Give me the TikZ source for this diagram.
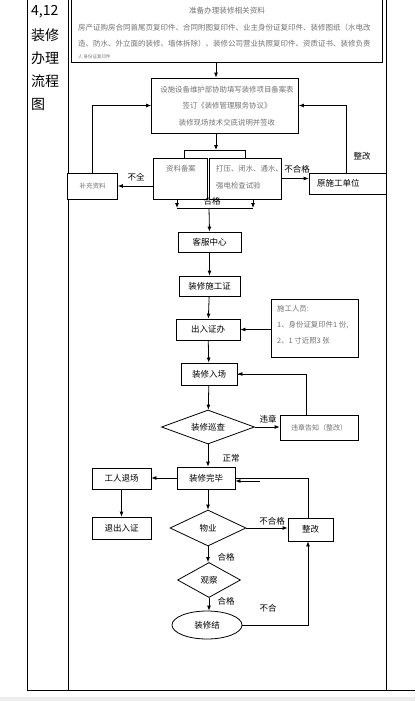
\documentclass[tikz,border=0pt]{standalone}
\usepackage{fontspec}
\setmainfont{Noto Sans CJK SC}
\usetikzlibrary{arrows.meta,shapes.geometric,calc}
\begin{document}
\begin{tikzpicture}[x=1pt,y=-1pt,
  box/.style={draw, line width=0.8pt, inner sep=0pt, fill=white},
  lbl/.style={font=\fontsize{8.5}{10}\selectfont, inner sep=0pt},
  gtxt/.style={font=\fontsize{7.4}{9}\selectfont, text=black!55, inner sep=0pt},
  ttxt/.style={font=\fontsize{7.5}{9}\selectfont, text=black!55, inner sep=0pt, anchor=west},
  coltxt/.style={font=\fontsize{14}{16}\selectfont, inner sep=0pt, anchor=west},
  arr/.style={line width=0.8pt, -{Latex[length=5pt,width=4pt]}},
  ln/.style={line width=0.8pt},
  dia/.style={draw, diamond, line width=0.8pt, inner sep=0pt, aspect=2.5}
]
\useasboundingbox (0,0) rectangle (415,701);
\clip (0,0) rectangle (415,701);
\fill[black!7] (0,697) rectangle (415,701);
% table frame
\draw[ln] (27,0) -- (27,690);
\draw[ln] (68,0) -- (68,690);
\draw[ln] (386,0) -- (386,690);
\draw[ln] (27,690) -- (415,690);
% column title
\node[coltxt] (c1) at (31,12) {4,12};
\node[coltxt] (c2) at (31,35) {装修};
\node[coltxt] (c3) at (31,58) {办理};
\node[coltxt] (c4) at (31,81) {流程};
\node[coltxt] (c5) at (31,104) {图};
% top box
\node[box, minimum width=311, minimum height=66, anchor=north west] (prep) at (71,-4) {};
\node[gtxt, font=\fontsize{7.6}{9}\selectfont] (p0) at (227,11) {准备办理装修相关资料};
\node[ttxt] (p1) at (78,28) {房产证购房合同首尾页复印件、合同附图复印件、业主身份证复印件、装修图纸（水电改};
\node[ttxt] (p2) at (78,44) {造、防水、外立面的装修、墙体拆除）、装修公司营业执照复印件、资质证书、装修负责};
\node[ttxt, font=\fontsize{4.5}{5}\selectfont] (p3) at (78,57) {人 身份证复印件};
% registration box
\node[box, minimum width=147, minimum height=55] (reg) at (225,105.5) {};
\node[gtxt] (r1) at (227,90) {设施设备维护部协助填写装修项目备案表};
\node[gtxt] (r2) at (227,106) {签订《装修管理服务协议》};
\node[gtxt] (r3) at (227,123) {装修现场技术交底说明并签收};
\coordinate (cx) at (216,0);
\draw[arr] (cx |- prep.south) -- (cx |- reg.north);
% split
\coordinate (s0) at (216,150);
\coordinate (sl) at (184,150);
\coordinate (sr) at (245,150);
\node[box, minimum width=54, minimum height=41] (zl) at (180,178.5) {};
\node[gtxt] (zlt) at (181,169) {资料备案};
\node[box, minimum width=72, minimum height=41] (daya) at (245,178.5) {};
\node[gtxt, align=left, anchor=north west, font=\fontsize{7.4}{17}\selectfont] (dayat) at (216,165) {打压、闭水、通水、\\强电检查试验};
\draw[arr] (reg.south -| s0) -- (s0);
\draw[ln] (sl) -- (sr);
\draw[ln] (sl) -- (sl |- zl.north);
\draw[ln] (sr) -- (sr |- daya.north);
% buchong
\node[box, minimum width=50, minimum height=26] (buchong) at (92.5,186) {};
\node[gtxt, font=\fontsize{6.5}{8}\selectfont] (bct) at (92.5,186) {补充资料};
\draw[arr] (zl.west |- buchong.east) -- (buchong.east);
\node[lbl] (bq) at (136,177) {不全};
\draw[arr] (buchong.north) |- (reg.west);
% yuan
\node[box, minimum width=77, minimum height=21] (yuan) at (347.5,183.5) {};
\node[lbl, anchor=west] (yt) at (317,183.5) {原施工单位};
\draw[arr] (daya.east) -- (daya.east -| yuan.west);
\node[lbl] (bhg1) at (297,169) {不合格};
\coordinate (yx) at (346,0);
\draw[arr] (yx |- yuan.north) |- (reg.east);
\node[lbl] (zg1) at (362,156) {整改};
% join
\coordinate (j1) at (177,208);
\coordinate (j2) at (253,208);
\coordinate (jm) at (209,208);
\draw[arr] (zl.south -| j1) -- (j1);
\draw[arr] (daya.south -| j2) -- (j2);
\draw[ln] (j1) -- (j2);
\node[lbl] (hg0) at (212,201.5) {合格};
% main column
\node[box, minimum width=63, minimum height=20, lbl] (kefu) at (209.5,242) {客服中心};
\draw[arr] (jm) -- (kefu.north);
\node[box, minimum width=61, minimum height=20, lbl] (sgz) at (209.5,286) {装修施工证};
\draw[arr] (kefu) -- (sgz);
\node[box, minimum width=64, minimum height=21, lbl] (churu) at (208,329.5) {出入证办};
\draw[arr] (sgz) -- (churu);
\node[box, minimum width=87, minimum height=58] (note) at (314.5,328) {};
\node[gtxt, align=left, anchor=north west, font=\fontsize{7.4}{16}\selectfont] (notet) at (277,305) {施工人员:\\1、身份证复印件1 份,\\2、1 寸近照3 张};
\draw[arr] (note.west |- churu.east) -- (churu.east);
\node[box, minimum width=56, minimum height=22, lbl] (ruchang) at (209,374) {装修入场};
\draw[arr] (churu) -- (ruchang);
\node[dia, minimum width=93, minimum height=34, lbl] (xuncha) at (208,427) {装修巡查};
\draw[arr] (ruchang) -- (xuncha);
\node[box, minimum width=78, minimum height=25] (weizhang) at (319,427.5) {};
\node[gtxt, font=\fontsize{7}{8}\selectfont] (wzt) at (319,427.5) {违章告知（整改）};
\draw[arr] (xuncha.east) -- (weizhang.west |- xuncha.east);
\node[lbl] (wz) at (268,419) {违章};
\draw[ln] ($(weizhang.north)+(-13,0)$) |- (ruchang.east);
\draw[arr] (290,374) -- (ruchang.east);
\node[lbl] (zc) at (231,458) {正常};
\node[box, minimum width=58, minimum height=22, lbl] (wanbi) at (206,478) {装修完毕};
\draw[arr] (xuncha) -- (xuncha |- wanbi.north);
\node[box, minimum width=59, minimum height=21, lbl] (tuichang) at (121.5,478.5) {工人退场};
\draw[arr] (wanbi.west) -- (wanbi.west -| tuichang.east);
\node[box, minimum width=59, minimum height=22, lbl] (tuichu) at (121.5,528) {退出入证};
\draw[arr] (tuichang) -- (tuichu);
\node[dia, minimum width=76, minimum height=36, lbl] (wuye) at (208,528) {物业};
\draw[arr] (wanbi.south -| wuye.north) -- (wuye.north);
\node[box, minimum width=45, minimum height=23, lbl] (zhenggai) at (310.5,529.5) {整改};
\draw[arr] (wuye.east) -- (wuye.east -| zhenggai.west);
\node[lbl] (bhg2) at (272,521) {不合格};
\coordinate (zx) at (308,0);
\draw[ln] (zx |- zhenggai.north) |- (wanbi.east);
\draw[arr] (260,481) -- (wanbi.east |- 260,481);
\node[dia, minimum width=63, minimum height=35, lbl] (guancha) at (209,580) {观察};
\draw[arr] (wuye.south) -- (wuye.south |- guancha.north);
\node[lbl] (hg1) at (226,557) {合格};
\node[ellipse, draw, line width=0.8pt, minimum width=70, minimum height=28, inner sep=0pt, lbl] (jie) at (207,625) {装修结};
\draw[arr] (guancha.south) -- (guancha.south |- jie.north);
\node[lbl] (hg2) at (226,601) {合格};
\node[lbl] (bh) at (268,608) {不合};
\draw[arr] (jie.east) -| (zx |- zhenggai.south);
\end{tikzpicture}
\end{document}
